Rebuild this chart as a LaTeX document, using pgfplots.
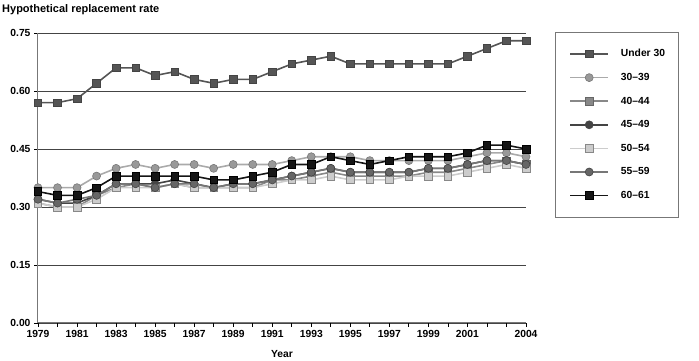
\documentclass[border=0pt]{standalone}
\usepackage{fontspec}
\setmainfont{Liberation Sans}
\usepackage{pgfplots}
\usepackage{pgfplotstable}
\pgfplotsset{compat=1.18}

\definecolor{cA}{HTML}{555555}
\definecolor{cB}{HTML}{AAAAAA}
\definecolor{cBf}{HTML}{999999}
\definecolor{cC}{HTML}{888888}
\definecolor{cD}{HTML}{444444}
\definecolor{cE}{HTML}{CCCCCC}
\definecolor{cF}{HTML}{777777}
\definecolor{cFf}{HTML}{666666}
\definecolor{cG}{HTML}{151515}

\pgfplotstableread{
year u30 a3039 a4044 a4549 a5054 a5559 a6061
1979 0.57 0.35 0.31 0.32 0.31 0.32 0.34
1980 0.57 0.35 0.30 0.31 0.30 0.31 0.33
1981 0.58 0.35 0.30 0.31 0.30 0.32 0.33
1982 0.62 0.38 0.33 0.33 0.32 0.33 0.35
1983 0.66 0.40 0.35 0.36 0.35 0.36 0.38
1984 0.66 0.41 0.36 0.36 0.35 0.36 0.38
1985 0.64 0.40 0.35 0.36 0.35 0.35 0.38
1986 0.65 0.41 0.36 0.37 0.36 0.36 0.38
1987 0.63 0.41 0.35 0.36 0.35 0.36 0.38
1988 0.62 0.40 0.35 0.35 0.35 0.35 0.37
1989 0.63 0.41 0.35 0.36 0.35 0.36 0.37
1990 0.63 0.41 0.35 0.36 0.35 0.36 0.38
1991 0.65 0.41 0.37 0.37 0.36 0.37 0.39
1992 0.67 0.42 0.37 0.38 0.37 0.38 0.41
1993 0.68 0.43 0.38 0.39 0.37 0.39 0.41
1994 0.69 0.43 0.39 0.40 0.38 0.40 0.43
1995 0.67 0.43 0.38 0.39 0.37 0.39 0.42
1996 0.67 0.42 0.38 0.39 0.37 0.39 0.41
1997 0.67 0.42 0.38 0.39 0.37 0.39 0.42
1998 0.67 0.42 0.38 0.39 0.38 0.39 0.43
1999 0.67 0.42 0.39 0.40 0.38 0.40 0.43
2000 0.67 0.42 0.39 0.40 0.38 0.40 0.43
2001 0.69 0.43 0.40 0.41 0.39 0.41 0.44
2002 0.71 0.44 0.41 0.42 0.40 0.42 0.46
2003 0.73 0.44 0.42 0.42 0.41 0.42 0.46
2004 0.73 0.43 0.41 0.41 0.40 0.41 0.45
}\data

\begin{document}
\begin{tikzpicture}
\useasboundingbox (-38pt,-38pt) rectangle (661pt,323pt);
\begin{axis}[
  at={(0,0)}, anchor=south west,
  scale only axis, width=488pt, height=290pt,
  xmin=1979, xmax=2004, ymin=0, ymax=0.75,
  axis x line*=bottom, axis y line*=left,
  axis line style={draw=cF, line width=1pt, -},
  xtick={1979,1981,...,2001,2004},
  minor xtick={1980,1982,...,2002,2003},
  ytick={0,0.15,0.30,0.45,0.60,0.75},
  ymajorgrids, grid style={draw=cD, line width=0.9pt},
  tick style={draw=black, line width=0.8pt},
  major tick length=4pt, minor tick length=4pt,
  tick align=outside,
  ticklabel style={font=\fontsize{10.3}{11}\selectfont\bfseries},
  /pgf/number format/assume math mode=true,
  xticklabel style={/pgf/number format/1000 sep={}},
  yticklabel style={/pgf/number format/.cd, fixed, fixed zerofill, precision=2},
  xtick pos=bottom, ytick pos=left,
  xlabel={Year}, xlabel style={font=\fontsize{10.3}{11}\selectfont\bfseries, yshift=-6pt},
  every axis plot/.append style={line width=1.6pt},
  legend cell align=left,
  legend style={at={(1.0594,1.0034)}, anchor=north west, draw=cF, line width=0.8pt,
    font=\fontsize{10.3}{11}\selectfont\bfseries, row sep=10.9pt, column sep=0pt,
    inner xsep=6.5pt, inner ysep=15pt, nodes={inner xsep=6.5pt}},
  legend image code/.code={\path (0pt,0pt) (51pt,0pt);\draw[mark repeat=2,mark phase=2,#1] plot coordinates {(7.5pt,0pt)(26.5pt,0pt)(45.5pt,0pt)};},
]
\addplot[cA, mark=square*, mark size=3.8pt, mark options={fill=cA, draw=cD, line width=0.6pt}] table[x=year,y=u30]{\data};
\addlegendentry{Under 30}
\addplot[cB, mark=*, mark size=4pt, mark options={fill=cBf, draw=cF, line width=0.6pt}] table[x=year,y=a3039]{\data};
\addlegendentry{30--39}
\addplot[cC, mark=square*, mark size=3.8pt, mark options={fill=cC, draw=cFf, line width=0.6pt}] table[x=year,y=a4044]{\data};
\addlegendentry{40--44}
\addplot[cD, mark=*, mark size=4pt, mark options={fill=cD, draw=cD, line width=0.6pt}] table[x=year,y=a4549]{\data};
\addlegendentry{45--49}
\addplot[cE, mark=square*, mark size=3.8pt, mark options={fill=cE, draw=cC, line width=0.6pt}] table[x=year,y=a5054]{\data};
\addlegendentry{50--54}
\addplot[cF, mark=*, mark size=4pt, mark options={fill=cFf, draw=cD, line width=0.6pt}] table[x=year,y=a5559]{\data};
\addlegendentry{55--59}
\addplot[cG, mark=square*, mark size=3.8pt, mark options={fill=cG, draw=black, line width=0.6pt}] table[x=year,y=a6061]{\data};
\addlegendentry{60--61}
\end{axis}
\node[anchor=west, font=\fontsize{11}{12}\selectfont\bfseries, inner sep=0pt] at (-36pt,313pt) {Hypothetical replacement rate};
\end{tikzpicture}
\end{document}
